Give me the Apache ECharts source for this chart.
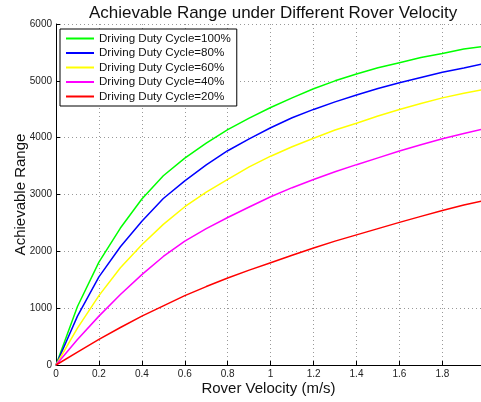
<!DOCTYPE html>
<head>
  <meta charset="utf-8">
  <title>Achievable Range under Different Rover Velocity</title>
  <script src="https://cdn.jsdelivr.net/npm/echarts@6/dist/echarts.min.js"></script>
  <style>
    body { margin: 0; background: #fff; }
  </style>
</head>
<body>
  <div id="main" style="width: 481px;height:402px;"></div>
  <script>
    // values
    var velocity = [0, 0.1, 0.2, 0.3, 0.4, 0.5, 0.6, 0.7, 0.8, 0.9, 1.0,
                    1.1, 1.2, 1.3, 1.4, 1.5, 1.6, 1.7, 1.8, 1.9, 2.0];
    var duty100 = [0, 1030, 1810, 2410, 2920, 3330, 3640, 3905, 4140, 4345, 4530,
                   4700, 4860, 5000, 5120, 5230, 5320, 5410, 5480, 5560, 5610];
    var duty80 = [0, 860, 1550, 2080, 2530, 2930, 3240, 3520, 3770, 3980, 4175,
                  4350, 4497, 4630, 4750, 4865, 4968, 5060, 5150, 5225, 5310];
    var duty60 = [0, 650, 1220, 1710, 2116, 2475, 2785, 3040, 3265, 3485, 3674,
                  3840, 3990, 4135, 4255, 4380, 4497, 4600, 4700, 4780, 4855];
    var duty40 = [0, 450, 860, 1240, 1590, 1910, 2180, 2400, 2595, 2780, 2960,
                  3120, 3265, 3400, 3525, 3645, 3765, 3875, 3981, 4075, 4160];
    var duty20 = [0, 225, 450, 660, 860, 1040, 1220, 1380, 1530, 1670, 1800,
                  1930, 2060, 2180, 2290, 2400, 2510, 2615, 2720, 2815, 2900];
    var names = ['Driving Duty Cycle=100%', 'Driving Duty Cycle=80%', 'Driving Duty Cycle=60%',
                 'Driving Duty Cycle=40%', 'Driving Duty Cycle=20%'];
    var colors = ['#00ff00', '#0000ff', '#ffff00', '#ff00ff', '#ff0000'];

    var myChart = echarts.init(document.getElementById('main'));
    var font = 'Liberation Sans, Arial, Helvetica, sans-serif';

    var lines = [duty100, duty80, duty60, duty40, duty20].map(function(vals, i) {
      return {
        name: names[i],
        type: 'line',
        symbol: 'none',
        color: colors[i],
        lineStyle: { width: 1.5, color: colors[i] },
        data: vals.map(function(v, j) { return [velocity[j], v]; })
      };
    });

    var gridLine = { show: true, lineStyle: { color: '#999', type: [1, 3], width: 1 } };

    option = {
      animation: false,
      backgroundColor: '#fff',
      title: {
        text: 'Achievable Range under Different Rover Velocity',
        left: 84, top: 0,
        textStyle: { fontFamily: font, fontSize: 17, fontWeight: 'normal', color: '#111' }
      },
      legend: {
        orient: 'vertical',
        left: 60, top: 29,
        data: names,
        icon: 'rect',
        itemWidth: 28, itemHeight: 2,
        itemGap: 1.5,
        padding: [3, 6, 3, 6],
        borderColor: '#000', borderWidth: 1,
        backgroundColor: '#fff',
        textStyle: { fontFamily: font, fontSize: 11.6, color: '#111', lineHeight: 13 }
      },
      grid: { left: 56, top: 24, right: 0, bottom: 37, outerBoundsMode: 'none', containLabel: false },
      xAxis: {
        type: 'value',
        min: 0, max: 1.98, interval: 0.2,
        name: 'Rover Velocity (m/s)',
        nameLocation: 'middle', nameGap: 16, nameMoveOverlap: false,
        nameTextStyle: { fontFamily: font, fontSize: 15, color: '#111' },
        axisLine: { lineStyle: { color: '#000' } },
        axisTick: { inside: true, length: 4, lineStyle: { color: '#000' } },
        axisLabel: { fontFamily: font, fontSize: 10, color: '#222', margin: 4, showMaxLabel: false },
        splitLine: gridLine
      },
      yAxis: {
        type: 'value',
        min: 0, max: 6000, interval: 1000,
        name: 'Achievable Range',
        nameLocation: 'middle', nameGap: 28, nameMoveOverlap: false,
        nameTextStyle: { fontFamily: font, fontSize: 15, color: '#111' },
        axisLine: { show: true, lineStyle: { color: '#000' } },
        axisTick: { show: true, inside: true, length: 4, lineStyle: { color: '#000' } },
        axisLabel: { fontFamily: font, fontSize: 10, color: '#222', margin: 4,
                     formatter: function(v) { return String(v); } },
        splitLine: gridLine
      },
      series: lines
    };

    myChart.setOption(option);
  </script>
</body>
